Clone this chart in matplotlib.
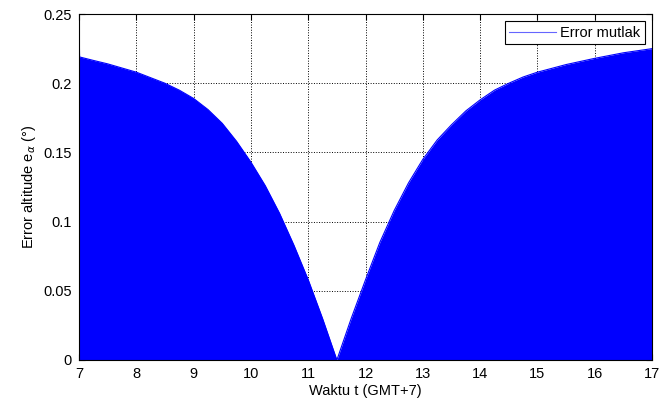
import matplotlib.pyplot as plt

plt.rcParams['font.family'] = ['Liberation Sans', 'DejaVu Sans']

# envelope of the absolute altitude error
waktu = [7.0, 7.01, 7.25, 7.5, 7.75, 8.0, 8.25, 8.5, 8.75, 9.0, 9.25, 9.5, 9.75, 10.0,
         10.25, 10.5, 10.75, 11.0, 11.25, 11.5, 11.75, 12.0, 12.25, 12.5, 12.75, 13.0,
         13.25, 13.5, 13.75, 14.0, 14.25, 14.5, 14.75, 15.0, 15.5, 16.0, 16.5, 17.0]
error_mutlak = [0.25, 0.219, 0.2165, 0.214, 0.211, 0.208, 0.204, 0.200, 0.195, 0.189, 0.181, 0.171, 0.158, 0.143,
                0.126, 0.106, 0.083, 0.058, 0.030, 0.0, 0.030, 0.058, 0.085, 0.108, 0.128, 0.145,
                0.159, 0.170, 0.180, 0.188, 0.195, 0.200, 0.2045, 0.208, 0.2135, 0.218, 0.222, 0.225]

fig = plt.figure(figsize=(6.61, 4.07), dpi=100)
ax = fig.add_axes([0.1195, 0.1155, 0.867, 0.85])

ax.fill_between(waktu, 0, error_mutlak, color='#0000ff', linewidth=0, zorder=2)
ax.plot(waktu, error_mutlak, color='#0000ff', linewidth=0.8, label='Error mutlak', zorder=2)

ax.set_xlim(7, 17)
ax.set_ylim(0, 0.25)
ax.set_xticks(range(7, 18))
ax.set_yticks([0, 0.05, 0.1, 0.15, 0.2, 0.25])
ax.set_yticklabels(['0', '0.05', '0.1', '0.15', '0.2', '0.25'])
ax.tick_params(direction='in', top=True, right=True, labelsize=10.5, length=4, pad=5)
ax.grid(True, color='black', linestyle=':', linewidth=0.7)
ax.set_axisbelow(True)

ax.set_xlabel('Waktu t (GMT+7)', fontsize=10.5, labelpad=2)
ax.set_ylabel(r'Error altitude e$_\alpha$ (°)', fontsize=10.5, labelpad=4)

leg = ax.legend(loc='upper right', fontsize=10.5, fancybox=False, framealpha=1,
                edgecolor='black', handlelength=3.2, borderaxespad=0.5,
                borderpad=0.3, handletextpad=0.3)
leg.get_frame().set_linewidth(0.8)
leg.get_lines()[0].set_color('#6666ff')

fig.savefig('out.png', dpi=100)
